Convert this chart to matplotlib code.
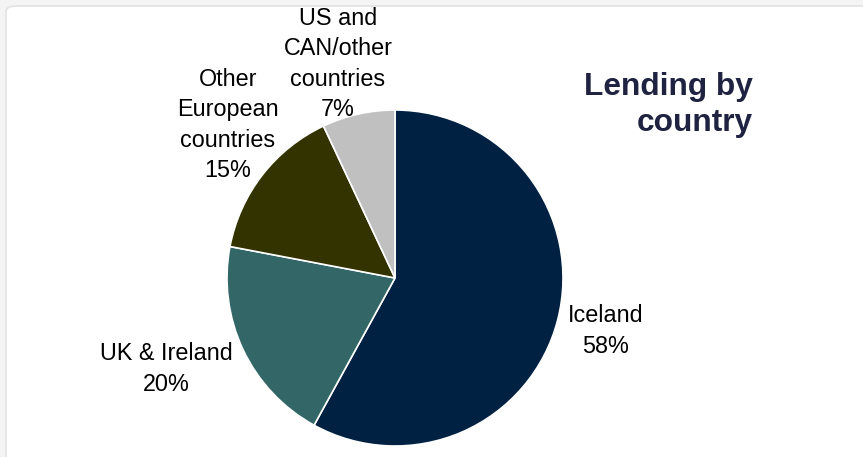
import matplotlib.pyplot as plt
from matplotlib.patches import FancyBboxPatch

plt.rcParams['font.family'] = ['Liberation Sans', 'DejaVu Sans']

countries = ["Iceland", "UK & Ireland", "Other\nEuropean\ncountries", "US and\nCAN/other\ncountries"]
shares = [58, 20, 15, 7]
colors = ["#002142", "#336666", "#333300", "#c0c0c0"]

W, H = 863, 457
fig = plt.figure(figsize=(W / 100, H / 100), dpi=100)
fig.patch.set_facecolor("#f4f4f4")

# white card with rounded corners
card = FancyBboxPatch((6 / W, -20 / H), (W + 30) / W, (H + 14) / H,
                      boxstyle="round,pad=0,rounding_size=0.012",
                      transform=fig.transFigure, facecolor="white",
                      edgecolor="#e2e2e2", linewidth=1.2, zorder=-5)
fig.patches.append(card)

cx, cy, r = 395, 278, 168
ax = fig.add_axes([(cx - r) / W, (H - cy - r) / H, 2 * r / W, 2 * r / H])
ax.set_zorder(2)
ax.pie(shares, colors=colors, startangle=90, counterclock=False,
       wedgeprops=dict(edgecolor="white", linewidth=1.2))
ax.set_xlim(-1, 1)
ax.set_ylim(-1, 1)
ax.axis("off")

# label positions in pixels (centre of each text block)
label_pos = [(606, 331), (166, 369), (228, 125), (338, 64)]
for name, pct, (x, y) in zip(countries, shares, label_pos):
    fig.text(x / W, 1 - y / H, f"{name}\n{pct}%", ha="center", va="center",
             fontsize=16.8, color="black", linespacing=1.41, zorder=3)

fig.text(753 / W, 1 - 105 / H, "Lending by\ncountry", ha="right", va="center",
         fontsize=22.8, fontweight="bold", color="#1f2240", linespacing=1.23,
         zorder=3)

fig.savefig("out.png", dpi=100)
